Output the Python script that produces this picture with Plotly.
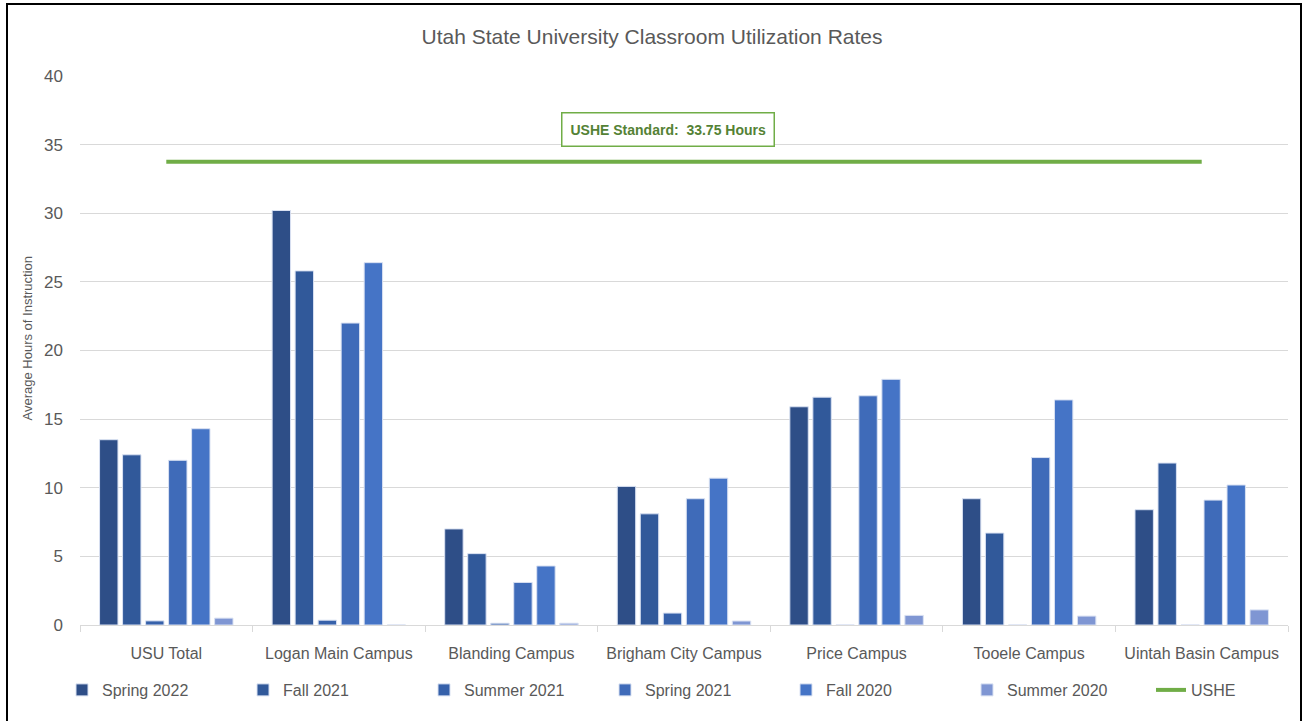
import plotly.graph_objects as go

categories = ["USU Total", "Logan Main Campus", "Blanding Campus", "Brigham City Campus",
              "Price Campus", "Tooele Campus", "Uintah Basin Campus"]
series_names = ["Spring 2022", "Fall 2021", "Summer 2021", "Spring 2021", "Fall 2020", "Summer 2020"]
spring_2022 = [13.5, 30.2, 7.0, 10.1, 15.9, 9.2, 8.4]
fall_2021 = [12.4, 25.8, 5.2, 8.1, 16.6, 6.7, 11.8]
summer_2021 = [0.3, 0.35, 0.13, 0.87, 0, 0, 0]
spring_2021 = [12.0, 22.0, 3.1, 9.2, 16.7, 12.2, 9.1]
fall_2020 = [14.3, 26.4, 4.3, 10.7, 17.9, 16.4, 10.2]
summer_2020 = [0.5, 0, 0.13, 0.29, 0.7, 0.65, 1.1]
ushe_standard = 33.75
colors = ["#2E4E87", "#31599A", "#3661AA", "#3F6BB9", "#4574C6", "#7F96D3"]

series_values = [spring_2022, fall_2021, summer_2021, spring_2021, fall_2020, summer_2020]

FONT = "Liberation Sans, Arial, sans-serif"
W, H = 1304, 721
L, R, T, B = 80, 16, 76, 96
PW, PH = W - L - R, H - T - B

fig = go.Figure()
for name, vals, col in zip(series_names, series_values, colors):
    fig.add_trace(go.Bar(x=categories, y=vals, name=name, marker_color=col,
                         marker_line=dict(color="#D9E1F2", width=1), legend="legend"))

fig.add_trace(go.Scatter(x=categories, y=[ushe_standard] * len(categories), name="USHE",
                         mode="lines", line=dict(color="#70AD47", width=4), legend="legend2"))

legend_common = dict(orientation="h", yanchor="top", y=-48 / PH, xanchor="left",
                     font=dict(size=16, color="#595959"), itemwidth=30,
                     bgcolor="rgba(0,0,0,0)")

fig.update_layout(
    width=W, height=H,
    margin=dict(l=L, r=R, t=T, b=B, autoexpand=False),
    paper_bgcolor="white", plot_bgcolor="white",
    barmode="group", bargap=0.2, bargroupgap=0.2,
    font=dict(family=FONT, color="#595959", size=16),
    title=dict(text="Utah State University Classroom Utilization Rates", x=0.5, xanchor="center",
               y=1 - 37 / H, yanchor="middle", font=dict(size=21, color="#595959")),
    xaxis=dict(showgrid=False, showline=True, linecolor="#D9D9D9", linewidth=1,
               ticks="outside", tickson="boundaries", ticklen=6, tickcolor="#D9D9D9",
               ticklabelstandoff=14,
               tickfont=dict(size=16, color="#595959"), automargin=False),
    yaxis=dict(range=[0, 40], dtick=5, showgrid=True, gridcolor="#D9D9D9", gridwidth=1,
               zeroline=False, showline=False, tickfont=dict(size=17, color="#595959"),
               ticklabelstandoff=16, automargin=False),
    legend=dict(x=-18 / PW, entrywidth=136, entrywidthmode="pixels", traceorder="normal",
                **legend_common),
    legend2=dict(x=(1151 - L) / PW, **legend_common),
    showlegend=True,
)

fig.add_annotation(text="Average Hours of Instruction", xref="paper", yref="paper",
                   x=(17 - L) / PW, y=(625 - 338) / PH, textangle=-90, showarrow=False,
                   font=dict(size=13, color="#595959"))

fig.add_annotation(text="<b>USHE Standard:  33.75 Hours</b>", xref="paper", yref="y",
                   x=(668 - L) / PW, y=36.1, showarrow=False,
                   font=dict(size=14, color="#548235", family=FONT),
                   bordercolor="#70AD47", borderwidth=1.5, borderpad=8, bgcolor="white")

fig.add_shape(type="rect", xref="paper", yref="paper",
              x0=(7 - L) / PW, x1=(1301 - L) / PW, y0=-(H + 2 - T - PH) / PH, y1=1 + (T - 4) / PH,
              line=dict(color="black", width=2), fillcolor="rgba(0,0,0,0)")

fig.write_html("out.html", config={"displayModeBar": False},
               post_script="document.body.style.margin='0px';")
